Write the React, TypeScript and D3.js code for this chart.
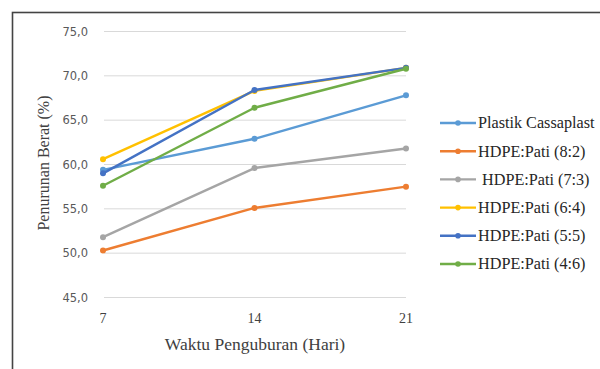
import React from "react";
import * as d3 from "d3";

const days = ["7", "14", "21"];
const yTicks = [45, 50, 55, 60, 65, 70, 75];

const seriesNames = [
  "Plastik Cassaplast",
  "HDPE:Pati (8:2)",
  " HDPE:Pati (7:3)",
  "HDPE:Pati (6:4)",
  "HDPE:Pati (5:5)",
  "HDPE:Pati (4:6)",
];
const seriesColors = ["#5B9BD5", "#ED7D31", "#A5A5A5", "#FFC000", "#4472C4", "#70AD47"];

const cassaplast = [59.4, 62.9, 67.8];
const pati82 = [50.3, 55.1, 57.5];
const pati73 = [51.8, 59.6, 61.8];
const pati64 = [60.6, 68.3, 70.9];
const pati55 = [59.0, 68.4, 70.9];
const pati46 = [57.6, 66.4, 70.8];

const seriesValues = [cassaplast, pati82, pati73, pati64, pati55, pati46];

export default function App() {
  const W = 600;
  const H = 369;
  const x = d3.scalePoint<string>().domain(days).range([103, 406]);
  const y = d3.scaleLinear().domain([45, 75]).range([297.5, 31.5]);
  const line = d3
    .line<number>()
    .x((_, i) => x(days[i]) as number)
    .y((d) => y(d));

  const serif = "'Liberation Serif', 'DejaVu Serif', serif";
  const sans = "'DejaVu Sans', 'Liberation Sans', sans-serif";

  return (
    <svg
      width={W}
      height={H}
      style={{ position: "absolute", left: 0, top: 0, background: "#fff" }}
    >
      <rect x={0} y={0} width={W} height={H} fill="#fff" />
      <rect x={12.5} y={12.5} width={W + 20} height={H + 20} fill="none" stroke="#444" strokeWidth={1.6} />

      {/* gridlines */}
      {yTicks.map((t) => (
        <line key={t} x1={104} x2={406} y1={y(t)} y2={y(t)} stroke="#d9d9d9" strokeWidth={1} />
      ))}

      {/* y tick labels */}
      {yTicks.map((t) => (
        <text
          key={t}
          x={88}
          y={y(t)}
          dy="0.35em"
          textAnchor="end"
          fontFamily={sans}
          fontSize={11.5}
          fill="#595959"
        >
          {d3.format(".1f")(t).replace(".", ",")}
        </text>
      ))}

      {/* x tick labels */}
      {days.map((d) => (
        <text
          key={d}
          x={x(d)}
          y={323}
          textAnchor="middle"
          fontFamily={serif}
          fontSize={14}
          fill="#404040"
        >
          {d}
        </text>
      ))}

      {/* axis titles */}
      <text x={255} y={350} textAnchor="middle" fontFamily={serif} fontSize={17.5} fill="#404040">
        Waktu Penguburan (Hari)
      </text>
      <text
        transform="translate(49,163) rotate(-90)"
        textAnchor="middle"
        fontFamily={serif}
        fontSize={16}
        fill="#404040"
      >
        Penurunan Berat (%)
      </text>

      {/* series */}
      {seriesValues.map((vals, si) => (
        <g key={si}>
          <path d={line(vals) ?? ""} fill="none" stroke={seriesColors[si]} strokeWidth={2.4} strokeLinejoin="round" />
          {vals.map((v, i) => (
            <circle key={i} cx={x(days[i])} cy={y(v)} r={3} fill={seriesColors[si]} />
          ))}
        </g>
      ))}

      {/* legend */}
      {seriesNames.map((name, i) => {
        const ly = 123 + i * 28.2;
        return (
          <g key={name}>
            <line x1={440} x2={476} y1={ly} y2={ly} stroke={seriesColors[i]} strokeWidth={2.4} />
            <circle cx={458} cy={ly} r={2.8} fill={seriesColors[i]} />
            <text x={478} y={ly} dy="0.33em" fontFamily={serif} fontSize={16.2} fill="#262626" xmlSpace="preserve">
              {name}
            </text>
          </g>
        );
      })}
    </svg>
  );
}
